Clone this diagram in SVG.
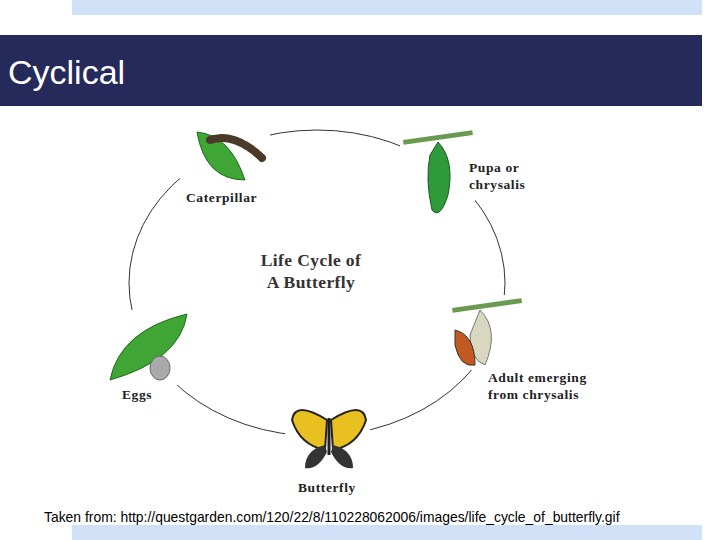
<svg xmlns="http://www.w3.org/2000/svg" width="720" height="540" viewBox="0 0 720 540">
<style>
.lb{font-family:"Liberation Serif",serif;font-weight:bold;font-size:13.5px;letter-spacing:0.6px;fill:#222}
.tt{font-family:"Liberation Serif",serif;font-weight:bold;font-size:17.5px;letter-spacing:0.4px;fill:#333}
.leaf{fill:#3fa535;stroke:#1e6b1e;stroke-width:1}
</style>
<rect width="720" height="540" fill="#fff"/>
<rect x="72" y="0" width="630" height="15" fill="#cfe0f7"/>
<rect x="0" y="35" width="702" height="71" fill="#252a5a"/>
<text x="8" y="84" font-family="Liberation Sans,sans-serif" font-size="34" fill="#fff">Cyclical</text>
<rect x="72" y="525" width="630" height="15" fill="#cfe0f7"/>
<g id="cycle">
<ellipse cx="317" cy="283" rx="188" ry="153" fill="none" stroke="#333" stroke-width="1"/>
<rect x="180" y="120" width="90" height="60" fill="#fff"/>
<rect x="400" y="120" width="75" height="100" fill="#fff"/>
<rect x="445" y="295" width="80" height="75" fill="#fff"/>
<rect x="285" y="400" width="85" height="75" fill="#fff"/>
<rect x="105" y="310" width="85" height="75" fill="#fff"/>
</g>
<g id="caterpillar">
<path class="leaf" d="M197 132 Q230 135 245 180 Q205 180 197 132Z"/>
<path d="M210 140 Q235 132 262 158" stroke="#4a3a2a" stroke-width="8" fill="none" stroke-linecap="round" stroke-dasharray="4 2"/>
</g>
<g id="pupa">
<rect x="403" y="135" width="70" height="5" fill="#6a9a50" transform="rotate(-8 438 138)"/>
<path d="M438 142 Q455 160 448 195 Q440 220 432 210 Q425 180 430 155Z" fill="#2e9a3a" stroke="#1a5a20"/>
</g>
<g id="adult">
<rect x="452" y="303" width="70" height="5" fill="#6a9a50" transform="rotate(-8 487 305)"/>
<path d="M480 310 Q500 330 485 365 Q470 360 470 335Z" fill="#d8d8c0" stroke="#777"/>
<path d="M455 330 Q475 335 475 365 Q460 368 455 345Z" fill="#c05a20" stroke="#333"/>
</g>
<g id="eggs">
<path class="leaf" d="M110 380 Q120 330 187 314 Q180 360 110 380Z"/>
<ellipse cx="160" cy="368" rx="10" ry="12" fill="#aaa" stroke="#666"/>
</g>
<g id="butterfly">
<path d="M327 420 Q295 400 292 420 Q300 445 325 450Z" fill="#e8c020" stroke="#222" stroke-width="2"/>
<path d="M331 420 Q363 400 366 420 Q358 445 333 450Z" fill="#e8c020" stroke="#222" stroke-width="2"/>
<path d="M325 445 Q305 450 305 468 Q318 470 327 452Z" fill="#333"/>
<path d="M333 445 Q353 450 353 468 Q340 470 331 452Z" fill="#333"/>
<line x1="329" y1="418" x2="329" y2="455" stroke="#222" stroke-width="3"/>
</g>
<g id="labels">
<text class="lb" x="186" y="202">Caterpillar</text>
<text class="lb" x="469" y="172">Pupa or</text>
<text class="lb" x="469" y="189">chrysalis</text>
<text class="tt" x="311" y="266" text-anchor="middle">Life Cycle of</text>
<text class="tt" x="311" y="288" text-anchor="middle">A Butterfly</text>
<text class="lb" x="488" y="382">Adult emerging</text>
<text class="lb" x="488" y="399">from chrysalis</text>
<text class="lb" x="122" y="399">Eggs</text>
<text class="lb" x="298" y="492">Butterfly</text>
</g>
<text x="44" y="522" font-family="Liberation Sans,sans-serif" font-size="13.9" fill="#000">Taken from: http://questgarden.com/120/22/8/110228062006/images/life_cycle_of_butterfly.gif</text>
</svg>
